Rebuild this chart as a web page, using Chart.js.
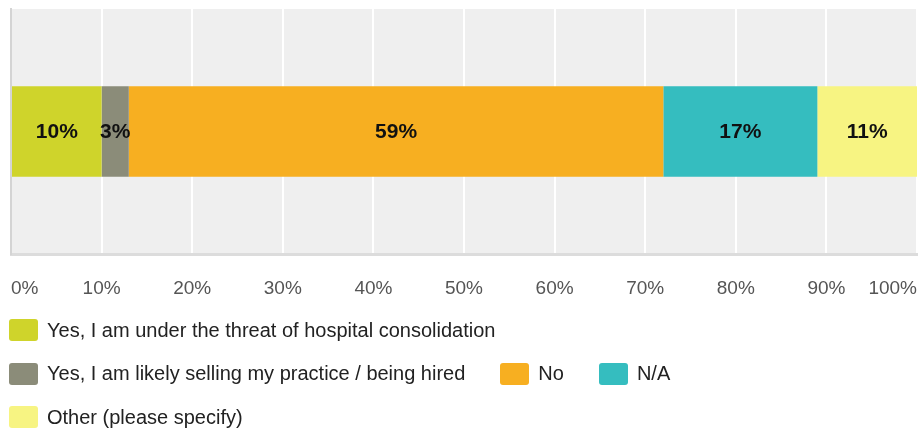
<!DOCTYPE html>
<html>
<head>
<meta charset="utf-8">
<script src="https://cdn.jsdelivr.net/npm/chart.js@4/dist/chart.umd.min.js"></script>
<style>
  html, body { margin: 0; padding: 0; background: #fff; }
  #wrap { position: relative; width: 919px; height: 431px; overflow: hidden; }
  #chart { position: absolute; left: 0; top: 0; }
  #legend {
    position: absolute; left: 9px; top: 319px; width: 910px;
    display: flex; flex-wrap: wrap; align-items: center;
    font-family: 'Liberation Sans', Arial, sans-serif; font-size: 20px; color: #222;
  }
  .item { display: flex; align-items: center; height: 22px; margin: 0 35px 21.5px 0; white-space: nowrap; }
  .swatch { width: 29px; height: 22px; border-radius: 3px; margin-right: 9px; flex: none; }
</style>
</head>
<body>
<div id="wrap">
  <canvas id="chart" width="919" height="431"></canvas>
  <div id="legend"></div>
</div>
<script>
// Survey answers, share of respondents (%)
const categories = [''];
const seriesNames = [
  'Yes, I am under the threat of hospital consolidation',
  'Yes, I am likely selling my practice / being hired',
  'No',
  'N/A',
  'Other (please specify)'
];
const seriesValues = [10, 3, 59, 17, 11];
const seriesColors = ['#cfd42b', '#8b8c79', '#f7af21', '#35bdbf', '#f7f482'];
const tickLabels = ['0%', '10%', '20%', '30%', '40%', '50%', '60%', '70%', '80%', '90%', '100%'];

const FONT = "'Liberation Sans', Arial, sans-serif";

// Light grey panel behind the plot
const plotBackground = {
  id: 'plotBackground',
  beforeDraw(chart) {
    const { ctx, chartArea: a } = chart;
    ctx.save();
    ctx.fillStyle = '#efefef';
    ctx.fillRect(a.left, a.top, a.right - a.left, a.bottom - a.top);
    ctx.restore();
  }
};

// Percentage written in the middle of each segment
const segmentLabels = {
  id: 'segmentLabels',
  afterDatasetsDraw(chart) {
    const { ctx } = chart;
    ctx.save();
    ctx.font = 'bold 21px ' + FONT;
    ctx.fillStyle = '#111';
    ctx.textAlign = 'center';
    ctx.textBaseline = 'middle';
    chart.data.datasets.forEach((ds, i) => {
      chart.getDatasetMeta(i).data.forEach((bar, j) => {
        const p = bar.getCenterPoint();
        ctx.fillText(ds.data[j] + '%', p.x, p.y + 1);
      });
    });
    ctx.restore();
  }
};

const chart = new Chart(document.getElementById('chart'), {
  type: 'bar',
  data: {
    labels: categories,
    datasets: seriesNames.map((name, i) => ({
      label: name,
      data: [seriesValues[i]],
      backgroundColor: seriesColors[i],
      borderWidth: 0,
      categoryPercentage: 1,
      barPercentage: 0.37
    }))
  },
  options: {
    indexAxis: 'y',
    responsive: false,
    animation: false,
    layout: { padding: { left: 11, right: 2, top: 9, bottom: 131 } },
    plugins: { legend: { display: false }, tooltip: { enabled: false } },
    scales: {
      x: {
        stacked: true,
        min: 0,
        max: 100,
        ticks: {
          stepSize: 10,
          align: 'inner',
          padding: 23,
          color: '#555',
          font: { family: FONT, size: 19 },
          callback: (v, i) => tickLabels[i]
        },
        grid: { color: '#ffffff', lineWidth: 2, drawTicks: false },
        border: { display: true, color: '#dcdcdc', width: 3 },
        // first and last labels sit inside the plot, so no side overhang is needed
        afterFit(scale) {
          scale.paddingLeft = 0;
          scale.paddingRight = 0;
          scale.height = 46;
        }
      },
      y: {
        stacked: true,
        ticks: { display: false },
        grid: { display: false, drawTicks: false },
        border: { display: true, color: '#d4d4d4', width: 2 }
      }
    }
  },
  plugins: [plotBackground, segmentLabels]
});

// Legend built from the chart's datasets
const legendEl = document.getElementById('legend');
chart.data.datasets.forEach(ds => {
  const item = document.createElement('div');
  item.className = 'item';
  const sw = document.createElement('span');
  sw.className = 'swatch';
  sw.style.background = ds.backgroundColor;
  const tx = document.createElement('span');
  tx.textContent = ds.label;
  item.appendChild(sw);
  item.appendChild(tx);
  legendEl.appendChild(item);
});
</script>
</body>
</html>
